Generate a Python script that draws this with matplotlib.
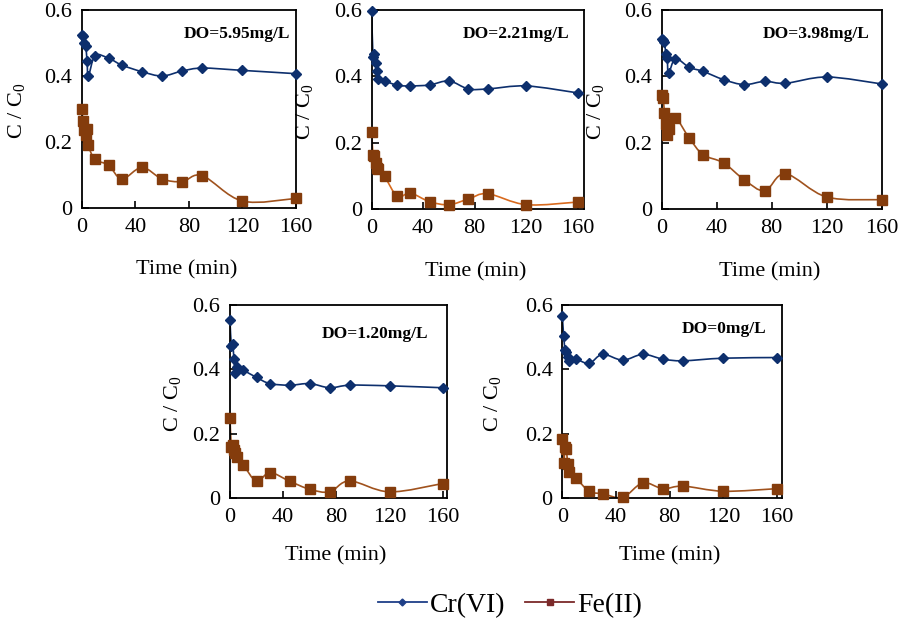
import numpy as np
import matplotlib
matplotlib.use('Agg')
import matplotlib.pyplot as plt
from matplotlib.path import Path
from matplotlib.patches import PathPatch
from matplotlib.lines import Line2D

plt.rcParams['font.family'] = ['Liberation Serif', 'DejaVu Serif']
plt.rcParams['mathtext.fontset'] = 'custom'
plt.rcParams['mathtext.rm'] = 'Liberation Serif'
plt.rcParams['mathtext.it'] = 'Liberation Serif:italic'

# Sampling times (min)
t_min = [0, 1, 2, 3, 4, 5, 10, 20, 30, 45, 60, 75, 90, 120, 160]

# DO labels, one per panel
do_labels = ['DO=5.95mg/L', 'DO=2.21mg/L', 'DO=3.98mg/L', 'DO=1.20mg/L', 'DO=0mg/L']

# C/C0 of Cr(VI) per panel
cr_595 = [0.525, 0.52, 0.50, 0.49, 0.445, 0.40, 0.462, 0.454, 0.433, 0.413, 0.40, 0.415, 0.424, 0.417, 0.407]
cr_221 = [0.598, 0.458, 0.466, 0.44, 0.415, 0.392, 0.386, 0.373, 0.371, 0.374, 0.386, 0.362, 0.362, 0.371, 0.350]
cr_398 = [0.512, 0.508, 0.503, 0.467, 0.455, 0.41, 0.453, 0.427, 0.415, 0.39, 0.375, 0.385, 0.379, 0.398, 0.377]
cr_120 = [0.553, 0.474, 0.480, 0.432, 0.388, 0.409, 0.398, 0.375, 0.356, 0.351, 0.356, 0.343, 0.351, 0.349, 0.343]
cr_0 = [0.565, 0.505, 0.462, 0.455, 0.44, 0.425, 0.432, 0.419, 0.447, 0.429, 0.447, 0.432, 0.427, 0.435, 0.437]

# C/C0 of Fe(II) per panel
fe_595 = [0.30, 0.265, 0.235, 0.22, 0.24, 0.19, 0.147, 0.13, 0.088, 0.123, 0.088, 0.08, 0.098, 0.021, 0.029]
fe_221 = [0.232, 0.164, 0.159, 0.138, 0.123, 0.12, 0.098, 0.038, 0.048, 0.022, 0.013, 0.030, 0.046, 0.013, 0.021]
fe_398 = [0.345, 0.335, 0.29, 0.256, 0.224, 0.24, 0.274, 0.214, 0.164, 0.139, 0.088, 0.055, 0.106, 0.036, 0.028]
fe_120 = [0.249, 0.160, 0.165, 0.150, 0.140, 0.129, 0.103, 0.052, 0.079, 0.052, 0.027, 0.019, 0.053, 0.019, 0.045]
fe_0 = [0.185, 0.108, 0.158, 0.152, 0.105, 0.082, 0.063, 0.021, 0.013, 0.002, 0.047, 0.029, 0.037, 0.021, 0.029]

cr_all = [cr_595, cr_221, cr_398, cr_120, cr_0]
fe_all = [fe_595, fe_221, fe_398, fe_120, fe_0]

# axes boxes in figure fraction and x limits
boxes = [[0.091, 0.6645, 0.2386, 0.3194],
         [0.4139, 0.6629, 0.2367, 0.321],
         [0.7369, 0.6629, 0.245, 0.321],
         [0.2561, 0.1968, 0.2413, 0.311],
         [0.6262, 0.1968, 0.245, 0.311]]
xmax = [160, 165, 160, 163, 164]
label_pos = [(0.722, 0.877), (0.679, 0.88), (0.70, 0.88), (0.669, 0.853), (0.735, 0.875)]
ylab_x = [-0.256, -0.267, -0.253, -0.217, -0.269]

cr_color = '#0d2f6d'
fe_marker = '#843c0c'
fe_lines = ['#a0521d', '#d86a1e', '#a0521d', '#a0521d', '#a0521d']


def smooth_path(x, y):
    # excel-like smoothed line (bezier through the points)
    pts = np.column_stack([x, y]).astype(float)
    n = len(pts)
    verts = [pts[0]]
    codes = [Path.MOVETO]
    for i in range(n - 1):
        p0 = pts[i - 1] if i > 0 else pts[i]
        p1 = pts[i]
        p2 = pts[i + 1]
        p3 = pts[i + 2] if i + 2 < n else pts[i + 1]
        verts += [p1 + (p2 - p0) / 6, p2 - (p3 - p1) / 6, p2]
        codes += [Path.CURVE4] * 3
    return Path(verts, codes)


fig = plt.figure(figsize=(8.98, 6.2), dpi=100)

for i in range(5):
    ax = fig.add_axes(boxes[i])
    ax.add_patch(PathPatch(smooth_path(t_min, cr_all[i]), fc='none', ec=cr_color, lw=1.2))
    ax.add_patch(PathPatch(smooth_path(t_min, fe_all[i]), fc='none', ec=fe_lines[i], lw=1.2))
    ax.plot(t_min, cr_all[i], ls='none', marker='D', ms=5.3, color=cr_color, clip_on=False, zorder=3)
    ax.plot(t_min, fe_all[i], ls='none', marker='s', ms=6.5, color=fe_marker, clip_on=False, zorder=3)

    ax.set_xlim(0, xmax[i])
    ax.set_ylim(0, 0.6)
    ax.set_xticks([0, 40, 80, 120, 160])
    ax.set_yticks([0, 0.2, 0.4, 0.6])
    ax.set_yticklabels(['0', '0.2', '0.4', '0.6'])
    ax.tick_params(direction='in', length=5, width=1.2, labelsize=16, pad=7)
    for s in ax.spines.values():
        s.set_linewidth(1.3)

    ax.set_xlabel('Time (min)', fontsize=16)
    ax.xaxis.set_label_coords(0.49, -0.265 if i < 3 else -0.252)
    ax.set_ylabel(r'C / C$_\mathregular{0}$', fontsize=16)
    ax.yaxis.set_label_coords(ylab_x[i], 0.49)

    ax.text(label_pos[i][0], label_pos[i][1], do_labels[i], transform=ax.transAxes,
            ha='center', va='center', fontsize=12.5, fontweight='bold')

handles = [Line2D([], [], color='#1f3f88', marker='D', ms=3.5, lw=1.3),
           Line2D([], [], color='#7b2a2a', marker='s', ms=4, lw=1.3)]
fig.legend(handles, ['Cr(VI)', 'Fe(II)'], loc='center', bbox_to_anchor=(0.568, 0.024),
           ncol=2, frameon=False, fontsize=20, handlelength=1.76, handletextpad=0.12,
           columnspacing=0.72, borderpad=0.1)

fig.savefig('out.png', dpi=100)
